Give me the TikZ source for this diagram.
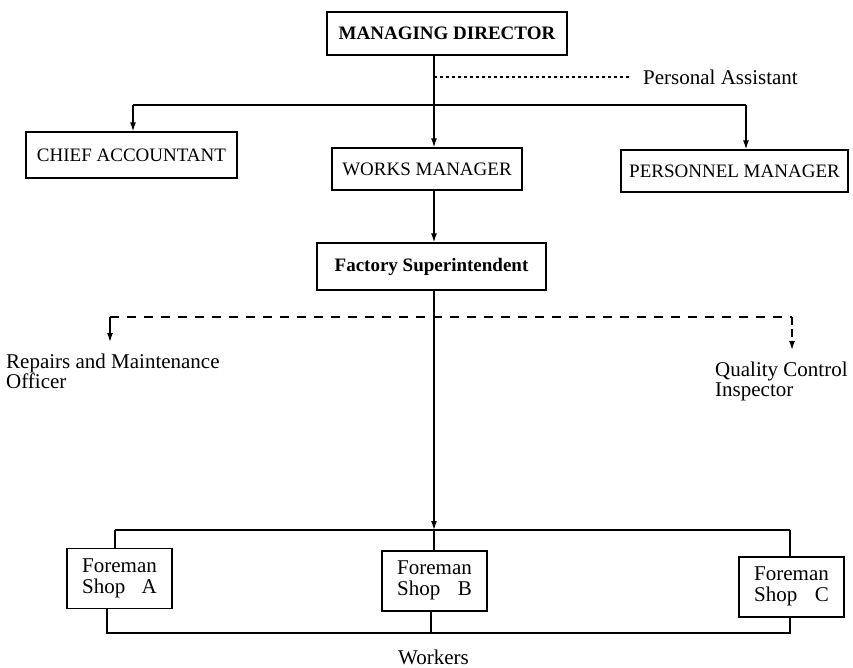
\documentclass[tikz,border=0pt]{standalone}
\usepackage{fontspec}
\setmainfont{Liberation Serif}
\usetikzlibrary{arrows.meta}
\newcommand{\fmtxt}[1]{\begin{tabular}{@{}l@{}}Foreman\\Shop\hfill #1\end{tabular}}
\begin{document}
\begin{tikzpicture}[x=1pt,y=-1pt,
  box/.style={draw, line width=1.3pt, inner sep=0pt, font=\fontsize{19}{21}\selectfont},
  bbox/.style={box, font=\fontsize{19}{21}\selectfont\bfseries},
  fbox/.style={draw, line width=1.3pt, inner sep=0pt, minimum width=105pt, minimum height=60pt, font=\fontsize{21}{21}\selectfont},
  lbl/.style={inner sep=0pt, align=left, font=\fontsize{21}{19.5}\selectfont},
  conn/.style={line width=1.3pt},
  tip/.style={-{Latex[length=9pt,width=6pt]}},
  arr/.style={conn, tip},
  dotln/.style={line width=1.2pt, dash pattern=on 3pt off 3pt},
  dashln/.style={line width=1.5pt, dash pattern=on 9pt off 8pt},
]
\useasboundingbox (0,0) rectangle (853,668);

% boxes
\node[bbox, minimum width=240pt, minimum height=43pt] (MD) at (447,33.5) {MANAGING DIRECTOR};
\node[box, minimum width=211pt, minimum height=46pt] (CA) at (131.5,155) {CHIEF ACCOUNTANT};
\node[box, minimum width=190pt, minimum height=42pt] (WM) at (427,169) {WORKS MANAGER};
\node[box, minimum width=227pt, minimum height=42pt] (PM) at (734.5,171) {PERSONNEL MANAGER};
\node[bbox, minimum width=229pt, minimum height=47pt] (FS) at (431.5,266.5) {Factory Superintendent};
\node[fbox] (A) at (119.5,578.5) {\fmtxt{A}};
\node[fbox] (B) at (434.5,581) {\fmtxt{B}};
\node[fbox] (C) at (791.5,587) {\fmtxt{C}};

% labels
\node[lbl, anchor=west, inner xsep=12pt] (PA) at (631,77) {Personal Assistant};
\node[lbl, anchor=north west, inner ysep=12pt] (RM) at (6,342) {Repairs and Maintenance\\Officer};
\node[lbl, anchor=north west, inner ysep=12pt] (QC) at (715,350) {Quality Control\\Inspector};
\node[lbl, anchor=base] (W) at (433.5,664) {Workers};

% coordinates
\coordinate (pa) at (434,77);
\coordinate (b1) at (434,105);
\coordinate (b1l) at (133,105);
\coordinate (b1r) at (746,105);
\coordinate (dl) at (110,317);
\coordinate (dr) at (792,317);
\coordinate (b2) at (434,530);
\coordinate (b2l) at (115,530);
\coordinate (b2r) at (790,530);
\coordinate (b3) at (431,633);
\coordinate (b3l) at (107,633);
\coordinate (b3r) at (790,633);

% top level
\draw[conn] (MD.south -| b1) -- (b1);
\draw[arr] (b1) -- (WM.north -| b1);
\draw[conn] (b1l) -- (b1r);
\draw[arr] (b1l) -- (CA.north -| b1l);
\draw[arr] (b1r) -- (PM.north -| b1r);
\draw[dotln] (pa) -- (PA.west);

\draw[arr] (WM.south -| b1) -- (FS.north -| b1);

% staff (dashed)
\draw[dashln] (dl) -- (dr);
\draw[conn, tip] (dl) -- (RM.north -| dl);
\draw[dashln, dash pattern=on 8pt off 4pt, tip] (dr) -- (QC.north -| dr);

% foremen
\draw[arr] (FS.south -| b2) -- (b2);
\draw[conn] (b2l) -- (b2r);
\draw[conn] (b2l) -- (A.north -| b2l);
\draw[conn] (b2) -- (B.north -| b2);
\draw[conn] (b2r) -- (C.north -| b2r);

% workers
\draw[conn] (A.south -| b3l) -- (b3l) -- (b3r) -- (C.south -| b3r);
\draw[conn] (B.south -| b3) -- (b3);
\end{tikzpicture}
\end{document}
